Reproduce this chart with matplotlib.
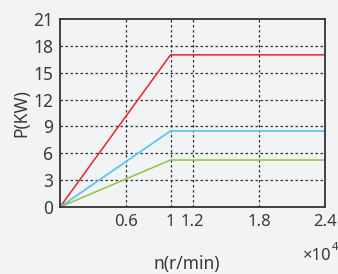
import matplotlib
matplotlib.use('Agg')
import matplotlib.pyplot as plt

# speed (x10^4 r/min) and power (kW) for three motors
speed = [0, 1, 2.4]
p_red = [0, 17, 17]
p_cyan = [0, 8.5, 8.5]
p_green = [0, 5.25, 5.25]

xticks = [0.6, 1, 1.2, 1.8, 2.4]
xtick_labels = ['0.6', '1', '1.2', '1.8', '2.4']
yticks = [0, 3, 6, 9, 12, 15, 18, 21]

bg = '#f2f3f5'
txt = '#3a3a3a'
plt.rcParams['font.family'] = ['Noto Sans', 'DejaVu Sans']
plt.rcParams['font.weight'] = 'light'

fig = plt.figure(figsize=(3.38, 2.74), dpi=100, facecolor=bg)
ax = fig.add_axes([0.1775, 0.2445, 0.785, 0.686])
ax.set_facecolor(bg)

ax.plot(speed, p_red, color='#e8242c', lw=1.1)
ax.plot(speed, p_cyan, color='#5bc8f0', lw=1.3)
ax.plot(speed, p_green, color='#8cc63f', lw=1.1)

ax.set_xlim(0, 2.4)
ax.set_ylim(0, 21)
ax.set_xticks(xticks)
ax.set_xticklabels(xtick_labels)
ax.set_yticks(yticks)
ax.tick_params(length=0, labelsize=12.5, colors=txt, pad=5)
ax.tick_params(axis='x', labelsize=12)

# dotted grid, skip the lines on the frame
for y in yticks[1:-1]:
    ax.axhline(y, color='#333333', lw=0.9, ls=(0, (2, 2)), zorder=0)
for x in xticks[:-1]:
    ax.axvline(x, color='#333333', lw=0.9, ls=(0, (2, 2)), zorder=0)

for s in ax.spines.values():
    s.set_color('#333333')
    s.set_linewidth(1.3)

ax.set_ylabel('P(KW)', fontsize=12.5, color=txt, labelpad=2)
fig.text(0.553, 0.005, 'n(r/min)', fontsize=12.5, color=txt, ha='center', va='bottom')
fig.text(0.895, 0.035, '×10', fontsize=12, color=txt, ha='left', va='bottom')
fig.text(0.982, 0.075, '4', fontsize=8, color=txt, ha='left', va='bottom')

fig.savefig('out.png', dpi=100, facecolor=bg)
